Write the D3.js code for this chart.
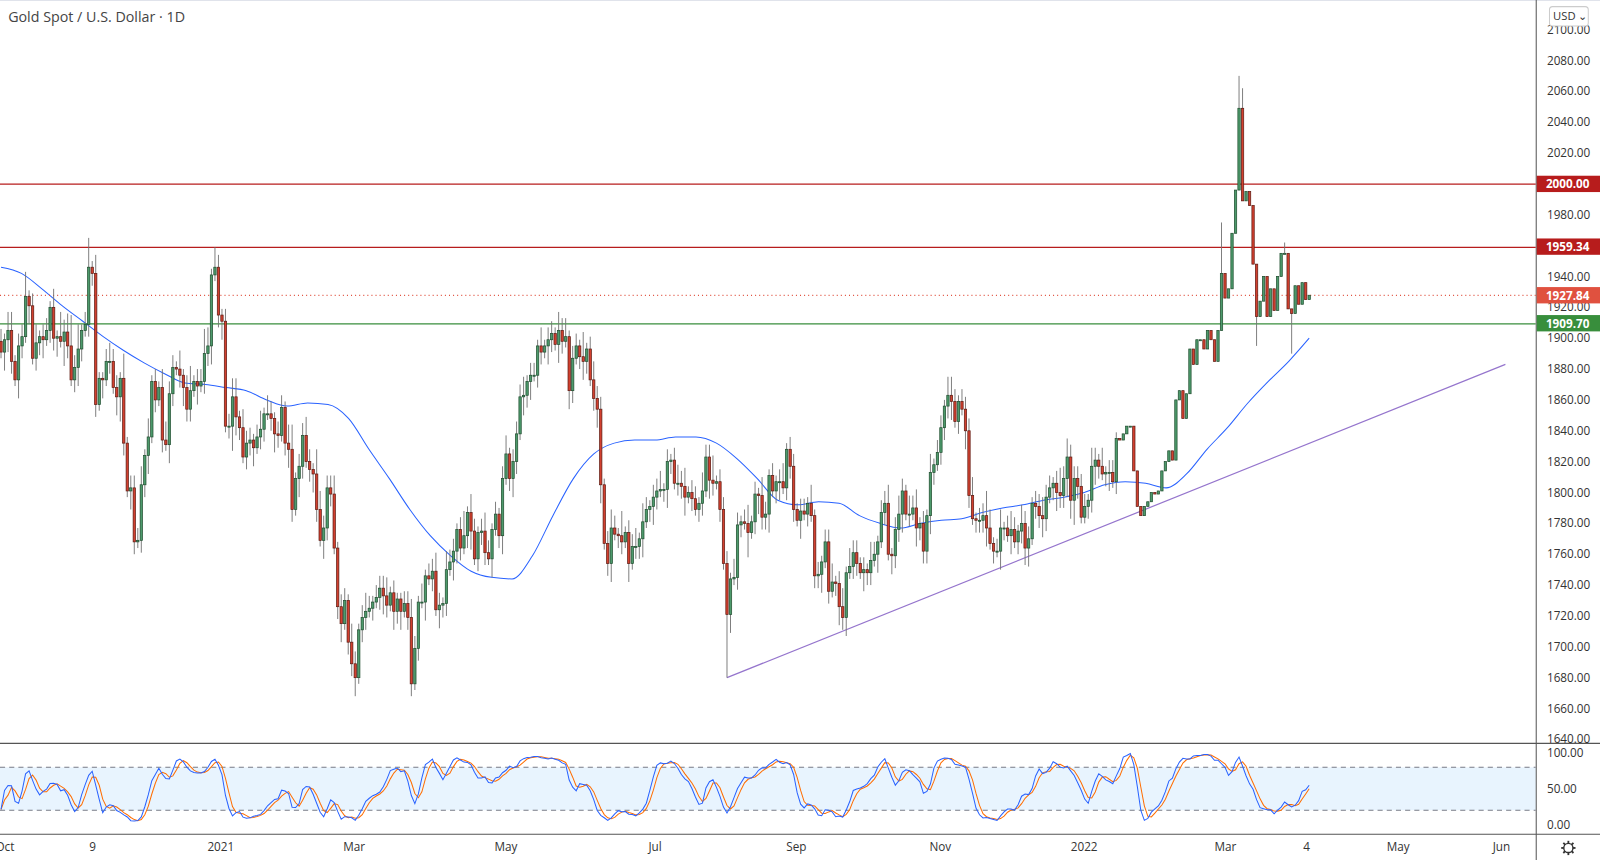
<!DOCTYPE html>
<html>
<head>
<meta charset="utf-8">
<script src="https://cdn.jsdelivr.net/npm/d3@7"></script>
<style>
  body { margin: 0; background: #fff; font-family: "Open Sans", "Noto Sans", sans-serif; overflow: hidden; }
  text { font-family: "Open Sans", "Noto Sans", sans-serif; }
</style>
</head>
<body>
<div class="chart"></div>
<script>
(function (d3) {

    // daily closes, Oct 2020 .. Apr 2022
    var closes = [
        1891,1899,1905,1885,1873,1895,1901,1927,1921,1887,1897,1901,1899,1905,1920,1900,1901,1898,1904,1895,
        1873,1881,1893,1905,1909,1946,1942,1857,1874,1873,1885,1885,1868,1862,1874,1832,1801,1803,1768,1769,
        1805,1824,1836,1872,
        1860,1868,1834,1831,1864,1881,1880,1876,1868,1854,1866,1872,1869,1872,1890,1895,1941,1946,1915,1911,
        1843,1843,1862,1849,1842,1823,1832,1834,1829,1836,1841,1851,1851,1848,1838,1837,1855,1832,1828,1789,
        1809,1817,1837,1820,1815,1812,1789,1769,1777,1803,1799,1764,1726,1715,1730,1703,1689,1680,1711,1719,
        1723,1725,1729,1732,1738,1733,1727,1735,1723,1731,1723,1728,1719,1676,1699,1729,1729,1746,1744,1749,
        1724,1727,
        1728,1750,1755,1762,1776,1764,1772,1787,1775,1757,1774,1775,1761,1757,1776,1786,1772,1809,1825,1809,
        1820,1838,1862,1863,1872,1876,1876,1895,1891,1895,1899,1903,1896,1905,1898,1901,1866,1887,1895,1888,
        1885,1893,1873,1861,1854,1805,1767,1754,1777,1773,1772,1768,1774,1754,1765,1765,1770,1781,1789,1791,
        1797,1801,1802,1802,1820,1821,1806,1806,1804,1797,1800,1796,1789,1793,1801,1823,1808,1806,1807,1789,
        1754,1721,1744,1745,1779,1781,1780,1774,1781,1799,1798,1784,1786,1811,1801,1807,1807,1803,1828,1817,
        1789,1782,1788,1786,1793,1785,1746,1747,1755,1768,1736,1742,1741,1726,1719,1748,1752,1761,1754,1748,
        1750,1748,1756,1760,1768,1787,
        1793,1760,1759,1776,1786,1801,1786,1786,1790,1777,1780,1762,1785,1813,1818,1826,1842,1856,1863,1859,
        1846,1859,1854,1840,1798,1783,1782,1782,1785,1777,1767,1762,1762,1777,1777,1772,1776,1768,1775,1780,
        1764,1770,1793,1791,1785,1783,1797,1803,1806,1800,1798,1809,1823,1795,1809,1804,1784,1791,1795,1817,
        1821,1817,1812,1813,1813,1807,1835,1834,1838,1843,1843,1814,1791,1785,1791,1794,1800,1799,1801,1814,
        1820,1827,1821,1860,1866,1848,1864,1893,1883,1899,1899,1893,1905,1899,1885,1905,1942,1926,1932,1968,
        1996,2049,1989,1995,1986,1948,1914,1924,1940,1914,1932,1918,1940,1955,1955,1919,1916,1934,1922,1936,
        1925,1927.84
    ];
    // upper / lower wick sizes per bar, in units of 4 dollars
    var wickUp = '2133122412312213142352412213112322141222313121332213124122431221223313221231' +
                 '3212213412232143222312213212321222312112232131223213221241321232121231222312' +
                 '2131221323122141232212321412231321223121232312213224122213212312132121231221' +
                 '2213121223123132212132122312321323121312213321222312243123123213221223221242' +
                 '322222132131221';
    var wickDn = '1322132131223122314212321222131213421321223121213212322131223123124321223122' +
                 '1232123213212321322123122312212123213231221213121322132212312221312312321323' +
                 '1221321321321232123312312213122312321232122312122132121231221412322312312221' +
                 '3121223121232312213221312132231213222321222312132122231213213122231223212322' +
                 '334211223212312';
    // notable extremes: [close of the bar, which occurrence (-1 = last), extreme price]
    var spikeHighs = [[1946, 0, 1965], [1946, 1, 1959], [1942, -1, 1975], [2049, 0, 2070], [1989, 0, 2062], [1955, -1, 1962]];
    var spikeLows = [[1768, 0, 1764], [1680, 0, 1677], [1676, 0, 1674], [1721, 0, 1680], [1719, -1, 1716],
                     [1764, -1, 1753], [1914, 0, 1895], [1916, -1, 1890]];

    // 50-day moving average, one value every ~6 bars
    var maValues = [1946,1942,1932,1921,1911,1901,1892,1884,1877,1871,1870,1868,1866,1860,1856,1858,1857,
        1848,1828,1809,1789,1772,1759,1749,1745,1744,1759,1785,1809,1825,1832,1834,1834,1836,1836,1832,1822,
        1809,1795,1792,1794,1793,1785,1780,1777,1780,1782,1783,1787,1790,1792,1795,1797,1800,1805,1807,1806,
        1803,1812,1828,1842,1858,1872,1885,1900];

    var levels = [
        { price: 2000.00, color: '#b71c1c', dash: null, label: '2000.00' },
        { price: 1959.34, color: '#b71c1c', dash: null, label: '1959.34' },
        { price: 1927.84, color: '#e0513f', dash: '1,3', label: '1927.84' },
        { price: 1909.70, color: '#388e3c', dash: null, label: '1909.70' }
    ];
    // trendline from the July low; end given as a share of the bar span
    var trendline = [[1721, 1680], [1.15, 1883]];

    var priceTicks = d3.range(1640, 2101, 20);
    var timeLabels = ['Oct', '9', '2021', 'Mar', 'May', 'Jul', 'Sep', 'Nov', '2022', 'Mar', '4', 'May', 'Jun'];
    // position of each label as a share of the span first bar .. last bar
    var timeShare = [0.003, 0.070, 0.168, 0.270, 0.386, 0.500, 0.608, 0.718, 0.828, 0.936, 0.998, 1.068, 1.147];
    var stochTicks = [100, 50, 0];

    // layout in a 1568x843 frame, scaled up to the 1600x860 window
    var W = 1568, H = 843;
    var plotRight = 1505;
    var n = closes.length;

    var x = d3.scaleLinear().domain([0, n - 1]).range([1, 1283]);
    var y = d3.scaleLinear().domain([1640, 2100]).range([724.6, 29]);
    var ys = d3.scaleLinear().domain([0, 100]).range([808, 738]);
    var maStep = (n - 1) / (maValues.length - 1);

    function findBar(v, occ) {
        var idx = [];
        closes.forEach(function (c, i) { if (c === v) idx.push(i); });
        if (!idx.length) return -1;
        return occ < 0 ? idx[idx.length - 1] : idx[Math.min(occ, idx.length - 1)];
    }

    var bars = closes.map(function (c, i) {
        var o = i === 0 ? 1898 : closes[i - 1];
        var up = (+wickUp[i] || 0) * 4, dn = (+wickDn[i] || 0) * 4;
        return { i: i, o: o, c: c, h: Math.max(o, c) + up, l: Math.min(o, c) - dn };
    });
    spikeHighs.forEach(function (s) { var k = findBar(s[0], s[1]); if (k >= 0) bars[k].h = Math.max(bars[k].h, s[2]); });
    spikeLows.forEach(function (s) { var k = findBar(s[0], s[1]); if (k >= 0) bars[k].l = Math.min(bars[k].l, s[2]); });

    var svg = d3.select('.chart').append('svg').attr('width', 1600).attr('height', 860)
        .append('g').attr('transform', 'scale(' + (1600 / W) + ')');

    svg.append('rect').attr('width', W).attr('height', H).attr('fill', '#fff');

    // pane separators
    svg.append('line').attr('x1', 0).attr('x2', W).attr('y1', 0.5).attr('y2', 0.5).attr('stroke', '#e0e3eb');
    svg.append('line').attr('x1', 0).attr('x2', W).attr('y1', 728.5).attr('y2', 728.5).attr('stroke', '#555');
    svg.append('line').attr('x1', 0).attr('x2', W).attr('y1', 817.5).attr('y2', 817.5).attr('stroke', '#555');
    svg.append('line').attr('x1', plotRight + 0.5).attr('x2', plotRight + 0.5).attr('y1', 0).attr('y2', H).attr('stroke', '#555');

    var main = svg.append('g');

    // moving average
    main.append('path')
        .datum(maValues)
        .attr('fill', 'none')
        .attr('stroke', '#2962ff')
        .attr('stroke-width', 1)
        .attr('d', d3.line()
            .x(function (d, i) { return x(i * maStep); })
            .y(function (d) { return y(d); })
            .curve(d3.curveMonotoneX));

    // trendline
    var t0 = findBar(trendline[0][0], 0);
    main.append('line')
        .attr('x1', x(t0)).attr('y1', y(trendline[0][1]))
        .attr('x2', x(trendline[1][0] * (n - 1))).attr('y2', y(trendline[1][1]))
        .attr('stroke', '#9575cd').attr('stroke-width', 1.2);

    // horizontal levels
    main.selectAll('.level').data(levels).enter().append('line')
        .attr('x1', 0).attr('x2', plotRight)
        .attr('y1', function (d) { return Math.round(y(d.price)) + 0.5; })
        .attr('y2', function (d) { return Math.round(y(d.price)) + 0.5; })
        .attr('stroke', function (d) { return d.color; })
        .attr('stroke-dasharray', function (d) { return d.dash; })
        .attr('stroke-width', 1.2);

    // candles
    var bw = 2.3;
    var g = main.selectAll('.bar').data(bars).enter().append('g');
    g.append('line')
        .attr('x1', function (d) { return x(d.i); })
        .attr('x2', function (d) { return x(d.i); })
        .attr('y1', function (d) { return y(d.h); })
        .attr('y2', function (d) { return y(d.l); })
        .attr('stroke', '#737373').attr('stroke-width', 0.9);
    g.append('rect')
        .attr('x', function (d) { return x(d.i) - bw / 2; })
        .attr('width', bw)
        .attr('y', function (d) { return y(Math.max(d.o, d.c)); })
        .attr('height', function (d) { return Math.max(1, Math.abs(y(d.o) - y(d.c))); })
        .attr('fill', function (d) { return d.c >= d.o ? '#4d9a6c' : '#d2402f'; })
        .attr('stroke', function (d) { return d.c >= d.o ? '#1f4d2e' : '#5c1a12'; })
        .attr('stroke-width', 0.7);

    // price axis
    var ax = svg.append('g');
    ax.selectAll('text').data(priceTicks).enter().append('text')
        .attr('x', 1516).attr('y', function (d) { return y(d) + 4; })
        .attr('font-size', 11.5).attr('fill', '#333')
        .text(function (d) { return d.toFixed(2); });

    var lab = svg.selectAll('.lab').data(levels).enter().append('g')
        .attr('transform', function (d) { return 'translate(' + (plotRight + 1) + ',' + y(d.price) + ')'; });
    lab.append('rect').attr('x', 0).attr('y', -8).attr('width', 62).attr('height', 16)
        .attr('fill', function (d) { return d.dash ? '#e0513f' : d.color; });
    lab.append('text').attr('x', 9).attr('y', 4.5).attr('font-size', 11.5).attr('font-weight', 'bold')
        .attr('fill', '#fff').text(function (d) { return d.label; });

    // USD button
    svg.append('rect').attr('x', 1518.5).attr('y', 6.5).attr('width', 38).attr('height', 19).attr('rx', 3)
        .attr('fill', '#fff').attr('stroke', '#ccc');
    svg.append('text').attr('x', 1522).attr('y', 20).attr('font-size', 11).attr('fill', '#333').text('USD \u2304');

    // title
    svg.append('text').attr('x', 8).attr('y', 22).attr('font-size', 14).attr('fill', '#444')
        .text('Gold Spot / U.S. Dollar \u00b7 1D');

    // stochastic
    var kRaw = closes.map(function (c, i) {
        var w = bars.slice(Math.max(0, i - 13), i + 1);
        var hh = d3.max(w, function (b) { return b.h; }), ll = d3.min(w, function (b) { return b.l; });
        return hh === ll ? 50 : 100 * (c - ll) / (hh - ll);
    });
    function sma(arr, p) {
        return arr.map(function (v, i) { return d3.mean(arr.slice(Math.max(0, i - p + 1), i + 1)); });
    }
    var kLine = sma(kRaw, 3);
    var dLine = sma(kLine, 3);

    svg.append('rect').attr('x', 0).attr('width', plotRight).attr('y', ys(80)).attr('height', ys(20) - ys(80))
        .attr('fill', '#2196f3').attr('fill-opacity', 0.1);
    [80, 20].forEach(function (v) {
        svg.append('line').attr('x1', 0).attr('x2', plotRight).attr('y1', ys(v)).attr('y2', ys(v))
            .attr('stroke', '#787b86').attr('stroke-dasharray', '5,4');
    });
    var sline = d3.line().x(function (d, i) { return x(i); }).y(function (d) { return ys(d); });
    svg.append('path').datum(dLine).attr('fill', 'none').attr('stroke', '#ff6d00').attr('stroke-width', 1).attr('d', sline);
    svg.append('path').datum(kLine).attr('fill', 'none').attr('stroke', '#2962ff').attr('stroke-width', 1).attr('d', sline);

    svg.selectAll('.st').data(stochTicks).enter().append('text')
        .attr('x', 1516).attr('y', function (d) { return ys(d) + 4; })
        .attr('font-size', 11.5).attr('fill', '#333').text(function (d) { return d.toFixed(2); });

    // time axis
    svg.selectAll('.tl').data(timeLabels).enter().append('text')
        .attr('x', function (d, i) { return x(timeShare[i] * (n - 1)); })
        .attr('y', 834).attr('text-anchor', 'middle').attr('font-size', 11.5).attr('fill', '#333')
        .text(function (d) { return d; });

    // settings gear
    var gear = svg.append('g').attr('transform', 'translate(1537,831)');
    gear.append('circle').attr('r', 4.5).attr('fill', 'none').attr('stroke', '#333').attr('stroke-width', 1.4);
    d3.range(8).forEach(function (k) {
        var a = k * Math.PI / 4;
        gear.append('line').attr('x1', 4.5 * Math.cos(a)).attr('y1', 4.5 * Math.sin(a))
            .attr('x2', 7 * Math.cos(a)).attr('y2', 7 * Math.sin(a))
            .attr('stroke', '#333').attr('stroke-width', 1.8);
    });

})(window.d3);
</script>
</body>
</html>
